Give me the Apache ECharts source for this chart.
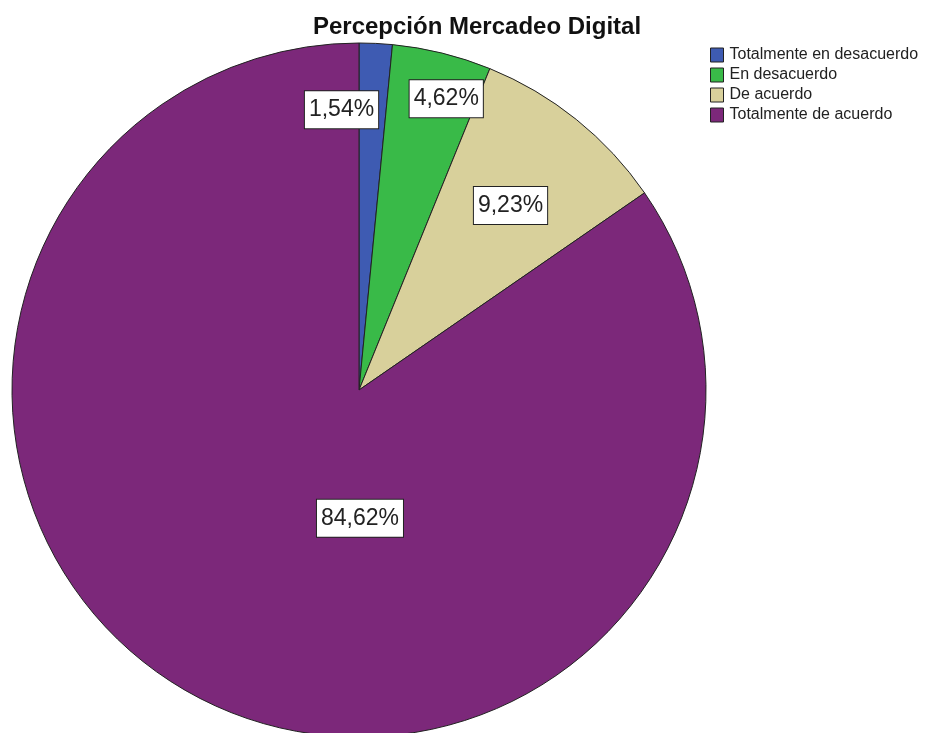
<!DOCTYPE html>
<html>
<head>
<meta charset="utf-8">
<style>
  html, body { margin: 0; padding: 0; background: #fff; }
  #chart { width: 926px; height: 733px; }
</style>
<script src="https://cdn.jsdelivr.net/npm/echarts@6/dist/echarts.min.js"></script>
</head>
<body>
<div id="chart"></div>
<script>
// Response categories and counts
const categories = ['Totalmente en desacuerdo', 'En desacuerdo', 'De acuerdo', 'Totalmente de acuerdo'];
const counts = [1, 3, 6, 55];
const colors = ['#3E5BB2', '#39BA48', '#D8D09B', '#7C287A'];
// Per-slice label nudges from the default inside position
const labelOffsets = [[-26, -104], [45, -120], [41, -47], [83, -28]];

const total = counts.reduce((a, b) => a + b, 0);

const chart = echarts.init(document.getElementById('chart'), null, { renderer: 'canvas' });

const data = categories.map((name, i) => ({
  name: name,
  value: counts[i],
  itemStyle: { color: colors[i] },
  label: { offset: labelOffsets[i] }
}));

chart.setOption({
  animation: false,
  backgroundColor: '#ffffff',
  title: {
    text: 'Percepción Mercadeo Digital',
    left: 472,
    textAlign: 'center',
    top: 10,
    textStyle: {
      fontFamily: 'Liberation Sans, Arial, sans-serif',
      fontSize: 24,
      fontWeight: 'bold',
      color: '#111'
    }
  },
  legend: {
    orient: 'vertical',
    left: 710,
    top: 47,
    padding: 0,
    icon: 'rect',
    itemWidth: 13,
    itemHeight: 14,
    itemGap: 4,
    selectedMode: false,
    data: categories,
    itemStyle: { borderColor: '#222', borderWidth: 1 },
    textStyle: {
      fontFamily: 'Liberation Sans, Arial, sans-serif',
      fontSize: 16,
      lineHeight: 16,
      color: '#222',
      padding: [0, 0, 0, 1]
    }
  },
  series: [{
    type: 'pie',
    center: [359, 390],
    radius: [0, 347],
    startAngle: 90,
    clockwise: true,
    avoidLabelOverlap: false,
    itemStyle: { borderColor: '#222', borderWidth: 1 },
    label: {
      show: true,
      position: 'inside',
      formatter: p => (p.value / total * 100).toFixed(2).replace('.', ',') + '%',
      fontFamily: 'Liberation Sans, Arial, sans-serif',
      fontSize: 23,
      color: '#222',
      backgroundColor: '#ffffff',
      borderColor: '#222',
      borderWidth: 1,
      padding: [8, 4, 6, 4]
    },
    labelLine: { show: false },
    emphasis: { disabled: true },
    data: data
  }]
});
</script>
</body>
</html>
